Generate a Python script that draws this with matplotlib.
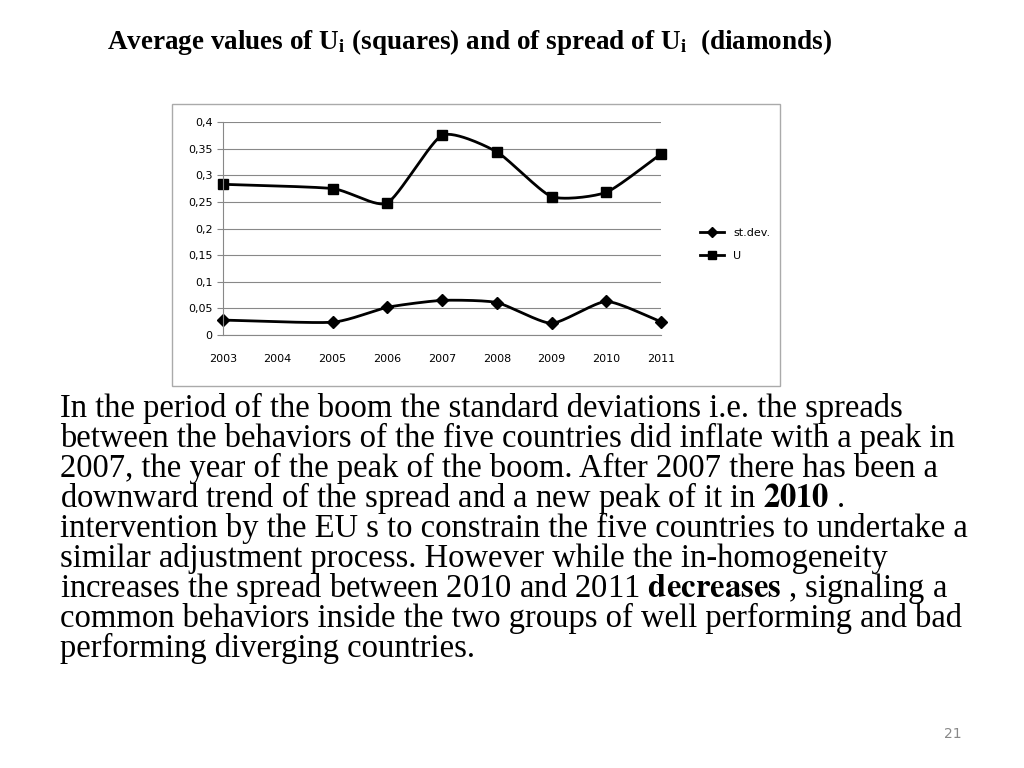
import numpy as np
import matplotlib
matplotlib.use("Agg")
import matplotlib.pyplot as plt
from matplotlib.patches import Rectangle
from matplotlib.lines import Line2D
plt.rcParams["mathtext.fontset"] = "stix"

years = [2003, 2005, 2006, 2007, 2008, 2009, 2010, 2011]
stdev = [0.028, 0.024, 0.052, 0.065, 0.061, 0.022, 0.063, 0.025]
u_vals = [0.283, 0.275, 0.248, 0.375, 0.344, 0.260, 0.268, 0.340]
xticks = list(range(2003, 2012))
yticks = [0, 0.05, 0.1, 0.15, 0.2, 0.25, 0.3, 0.35, 0.4]
ytick_labels = ["0", "0,05", "0,1", "0,15", "0,2", "0,25", "0,3", "0,35", "0,4"]
body_lines = [
    "In the period of the boom the standard deviations i.e. the spreads",
    "between the behaviors of the five countries did inflate with a peak in",
    "2007, the year of the peak of the boom. After 2007 there has been a",
    "downward trend of the spread and a new peak of it in $\\mathbf{2010}$ .",
    "intervention by the EU s to constrain the five countries to undertake a",
    "similar adjustment process. However while the in-homogeneity",
    "increases the spread between 2010 and 2011 $\\mathbf{decreases}$ , signaling a",
    "common behaviors inside the two groups of well performing and bad",
    "performing diverging countries.",
]

def smooth(x, y, n=30):
    x = np.asarray(x, float); y = np.asarray(y, float)
    px = np.concatenate([[2*x[0]-x[1]], x, [2*x[-1]-x[-2]]])
    py = np.concatenate([[2*y[0]-y[1]], y, [2*y[-1]-y[-2]]])
    xs, ys = [], []
    t = np.linspace(0, 1, n)
    for i in range(1, len(px)-2):
        for arr, out in ((px, xs), (py, ys)):
            p0, p1, p2, p3 = arr[i-1], arr[i], arr[i+1], arr[i+2]
            m1 = (p2 - p0) / 2 * 0.6
            m2 = (p3 - p1) / 2 * 0.6
            out.extend((2*t**3-3*t**2+1)*p1 + (t**3-2*t**2+t)*m1 + (-2*t**3+3*t**2)*p2 + (t**3-t**2)*m2)
    return xs, ys

fig = plt.figure(figsize=(10.24, 7.68), dpi=100)
W, H = 1024, 768
fig.patches.append(Rectangle((172/W, 1-386/H), 608/W, 282/H, transform=fig.transFigure,
                             fill=False, edgecolor="#aaaaaa", lw=1))
ax = fig.add_axes([223/W, 1-335/H, 438/W, 213/H])
for s in ax.spines.values():
    s.set_visible(False)
ax.spines["left"].set_visible(True); ax.spines["left"].set_color("#888888")
ax.spines["bottom"].set_visible(True); ax.spines["bottom"].set_color("#888888")
ax.set_ylim(0, 0.4); ax.set_xlim(2003, 2011)
ax.set_yticks(yticks); ax.set_yticklabels(ytick_labels, fontsize=8)
ax.set_xticks(xticks); ax.set_xticklabels([str(x) for x in xticks], fontsize=8)
ax.tick_params(axis="x", length=0, pad=14)
ax.tick_params(axis="y", length=4, color="#888888", direction="out")
ax.grid(axis="y", color="#888888", lw=0.8)
ax.set_axisbelow(True)

xs, ys = smooth(years, stdev)
ax.plot(xs, ys, color="black", lw=2, clip_on=False)
ax.plot(years, stdev, "D", color="black", ms=6, clip_on=False)
xs, ys = smooth(years, u_vals)
ax.plot(xs, ys, color="black", lw=2, clip_on=False)
ax.plot(years, u_vals, "s", color="black", ms=7, clip_on=False)

h = [Line2D([], [], color="black", lw=2, marker="D", ms=5),
     Line2D([], [], color="black", lw=2, marker="s", ms=6)]
fig.legend(h, ["st.dev.", "U"], loc="upper left", bbox_to_anchor=(690/W, 1-218/H),
           frameon=False, fontsize=8, handlelength=2.2, labelspacing=1.2)

fig.text(107/W, 1-42/H,
         r"Average values of U$_\mathbf{i}$ (squares) and of spread of U$_\mathbf{i}$  (diamonds)",
         fontsize=19.5, fontweight="bold", family="Liberation Serif", va="center")
for i, line in enumerate(body_lines):
    fig.text(60/W, 1-(408 + 30*i)/H, line, fontsize=23.5,
             family="Liberation Serif", va="center")
fig.text(953/W, 1-734/H, "21", fontsize=10, color="#888888", ha="center", va="center")
fig.savefig("out.png", dpi=100)
